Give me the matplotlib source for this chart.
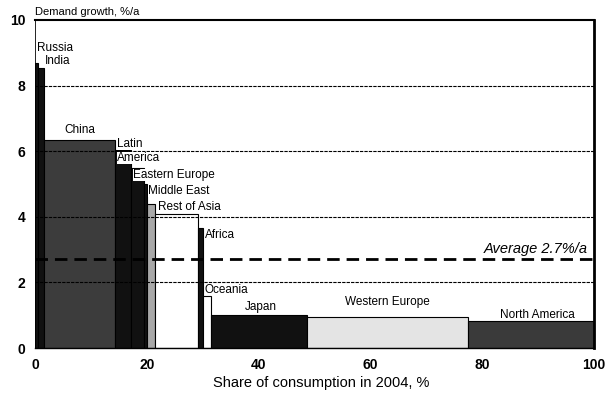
import matplotlib
matplotlib.use("Agg")
import matplotlib.pyplot as plt

plt.rcParams['font.family'] = ['Liberation Sans Narrow', 'Liberation Sans', 'DejaVu Sans']

# share of consumption (bar widths, %) and demand growth (%/a)
regions = ['Russia', 'India', 'China', 'Latin\nAmerica', 'Eastern Europe', 'Middle East',
           'Rest of Asia', '', 'Africa', 'Oceania', 'Japan', 'Western Europe', 'North America']
share = [0.5, 1.16, 12.64, 2.9, 2.3, 0.5, 1.5, 7.7, 0.85, 1.45, 17.2, 28.8, 22.5]
growth = [8.7, 8.55, 6.35, 6.05, 5.5, 5.0, 4.4, 4.1, 3.65, 1.6, 1.0, 0.95, 0.82]
colors = ['#111111', '#111111', '#3c3c3c', '#111111', '#111111', '#111111',
          '#a8a8a8', 'white', '#111111', 'white', '#111111', '#e4e4e4', '#3a3a3a']
average = 2.7

# label anchors (x, y of first line, alignment, white box behind)
label_pos = [(0.35, 9.15, 'left', False), (1.8, 8.75, 'left', False),
             (8.0, 6.65, 'center', False), (14.6, 6.23, 'left', True),
             (17.5, 5.27, 'left', True), (20.2, 4.8, 'left', True),
             (22.0, 4.3, 'left', False), (0, 0, 'left', False),
             (30.4, 3.45, 'left', False), (30.4, 1.78, 'left', False),
             (40.4, 1.25, 'center', False), (63.0, 1.4, 'center', False),
             (89.9, 1.0, 'center', False)]

fig = plt.figure(figsize=(6.06, 3.99), dpi=100)
ax = fig.add_axes([0.0578, 0.1278, 0.9222, 0.8221])

lefts = []
pos = 0
for w in share:
    lefts.append(pos)
    pos += w

ax.bar(lefts, growth, width=share, align='edge', color=colors,
       edgecolor='black', linewidth=0.8, zorder=2)

for y in [2, 4, 6, 8]:
    ax.axhline(y, color='black', lw=0.8, ls=(0, (3, 1)), zorder=2.5)

ax.axhline(average, color='black', lw=2, ls=(0, (4.5, 2.5)), zorder=3)
ax.text(98.9, average + 0.12, 'Average 2.7%/a', ha='right', va='bottom',
        fontsize=10.5, style='italic', zorder=4)

for name, (lx, ly, ha, boxed) in zip(regions, label_pos):
    for i, line in enumerate(name.split('\n')):
        if not line:
            continue
        kw = {}
        if boxed:
            kw['bbox'] = dict(facecolor='white', edgecolor='none', pad=0)
        ax.text(lx, ly - i * 0.44, line, ha=ha, va='center', fontsize=8.5, zorder=4, **kw)

ax.set_xlim(0, 100)
ax.set_ylim(0, 10)
ax.set_xticks([0, 20, 40, 60, 80, 100])
ax.set_yticks([0, 2, 4, 6, 8, 10])
ax.tick_params(length=0, labelsize=10)
ax.tick_params(axis='y', pad=7)
ax.tick_params(axis='x', pad=7)
for lab in ax.get_xticklabels() + ax.get_yticklabels():
    lab.set_fontweight('bold')

ax.spines['top'].set_linewidth(1.5)
ax.spines['right'].set_linewidth(2)
ax.spines['left'].set_linewidth(0.6)
ax.spines['bottom'].set_linewidth(1)

ax.set_xlabel('Share of consumption in 2004, %', fontsize=10.5)
ax.xaxis.set_label_coords(0.512, -0.085)
ax.text(0, 10.08, 'Demand growth, %/a', ha='left', va='bottom', fontsize=8)

fig.savefig('out.png', dpi=100)
